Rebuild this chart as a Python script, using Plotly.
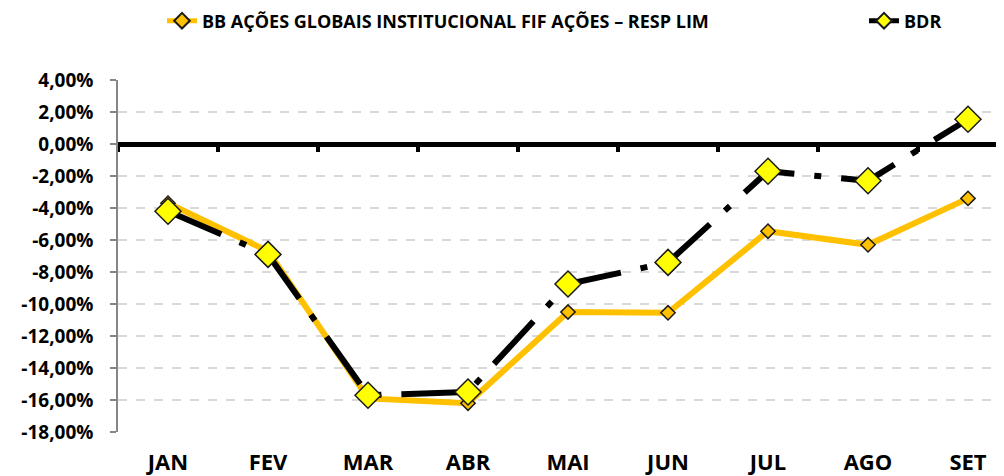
import plotly.graph_objects as go

months = ["JAN", "FEV", "MAR", "ABR", "MAI", "JUN", "JUL", "AGO", "SET"]
bb_fund = [-3.7, -6.7, -15.9, -16.2, -10.5, -10.55, -5.45, -6.3, -3.4]
bdr = [-4.2, -6.9, -15.7, -15.5, -8.75, -7.4, -1.7, -2.3, 1.55]
y_ticks = [4, 2, 0, -2, -4, -6, -8, -10, -12, -14, -16, -18]

name_bb = "BB AÇÕES GLOBAIS INSTITUCIONAL FIF AÇÕES – RESP LIM"
name_bdr = "BDR"

FONT = "Open Sans"
# page body has an 8px margin; the figure is sized to fill the rest of the window
W, H = 996, 468
xs = list(range(len(months)))
y_text = [f"{v:.2f}".replace(".", ",") + "%" for v in y_ticks]

fig = go.Figure()
fig.add_trace(go.Scatter(
    x=xs, y=bb_fund, name=name_bb, mode="lines+markers", legend="legend",
    line=dict(color="#FFC000", width=6),
    marker=dict(symbol="diamond", size=11, color="#FFC000",
                line=dict(color="#1a1a1a", width=1.5)),
))
fig.add_trace(go.Scatter(
    x=xs, y=bdr, name=name_bdr, mode="lines+markers", legend="legend2",
    line=dict(color="#000000", width=6, dash="58px,20px,7px,20px"),
    marker=dict(symbol="diamond", size=20, color="#FFFF00",
                line=dict(color="#1a1a1a", width=1.5)),
))
# helper trace so the zero-line axis is drawn
fig.add_trace(go.Scatter(x=[xs[0]], y=[0], xaxis="x2", mode="markers",
                         marker=dict(opacity=0), showlegend=False, hoverinfo="skip"))

boundaries = [i - 0.5 for i in range(len(months) + 1)]
legend_font = dict(family=FONT, size=18, color="#000000", weight="bold")

fig.update_layout(
    width=W, height=H,
    margin=dict(l=110, r=0, t=72, b=44, autoexpand=False),
    paper_bgcolor="white", plot_bgcolor="white",
    font=dict(family=FONT, color="#000000"),
    showlegend=True,
    legend=dict(orientation="h", x=154 / W, xref="container", y=1 - 13 / H,
                yref="container", yanchor="middle", xanchor="left",
                font=legend_font, itemsizing="constant", bgcolor="rgba(0,0,0,0)"),
    legend2=dict(orientation="h", x=856 / W, xref="container", y=1 - 13 / H,
                 yref="container", yanchor="middle", xanchor="left",
                 font=legend_font, itemsizing="constant", bgcolor="rgba(0,0,0,0)"),
    xaxis=dict(range=[-0.5, 8.36], tickvals=xs, ticktext=months,
               showgrid=False, zeroline=False, showline=False, ticks="",
               tickfont=dict(family=FONT, size=22, color="#000000", weight="bold"),
               ticklabelstandoff=15),
    xaxis2=dict(overlaying="x", matches="x", anchor="free",
                position=288 / 352, showline=True, linecolor="#000000", linewidth=5,
                ticks="outside", ticklen=5, tickwidth=4, tickcolor="#000000",
                tickvals=boundaries, showticklabels=False, showgrid=False,
                zeroline=False, layer="below traces"),
    yaxis=dict(range=[-18, 4], tickvals=y_ticks, ticktext=y_text,
               showgrid=True, gridcolor="#D9D9D9", griddash="dash", gridwidth=1.5,
               zeroline=False, showline=True, linecolor="#868686", linewidth=1.5,
               ticks="outside", ticklen=6, tickcolor="#868686", tickwidth=1.5,
               tickfont=dict(family=FONT, size=19, color="#000000", weight="bold"),
               ticklabelstandoff=13),
)

fig.write_html("out.html")
